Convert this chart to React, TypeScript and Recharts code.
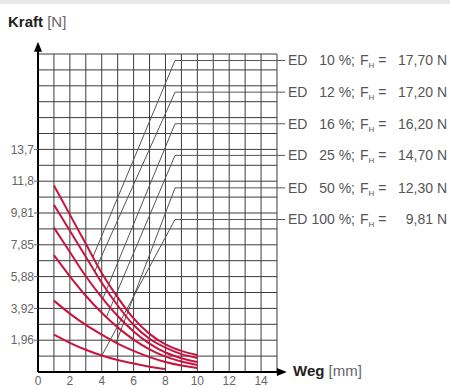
import React from 'react';
import { LineChart, Line, XAxis, YAxis, CartesianGrid, ReferenceLine, ReferenceDot } from 'recharts';

// Weg (mm) where the force curves are sampled
const curveX = [1, 2, 3, 4, 5, 6, 7, 8, 9, 10];
// Kraft (N) per ED curve (top to bottom)
const curveEd10 = [11.5, 9.7, 7.9, 6.1, 4.6, 3.3, 2.35, 1.7, 1.3, 1.05];
const curveEd12 = [10.3, 8.7, 7.1, 5.5, 4.1, 2.9, 2.05, 1.5, 1.1, 0.86];
const curveEd16 = [8.9, 7.4, 5.9, 4.6, 3.45, 2.5, 1.75, 1.2, 0.85, 0.62];
const curveEd25 = [7.2, 5.9, 4.7, 3.65, 2.75, 2.0, 1.4, 0.95, 0.65, 0.43];
const curveEd50 = [4.4, 3.6, 2.9, 2.3, 1.75, 1.3, 0.92, 0.62, 0.4, 0.25];
const curveEd100 = [2.3, 1.8, 1.37, 1.02, 0.74, 0.52, 0.33, 0.18];

// thin guide lines: start on the curve, bend into the holding level
const guideStartX = [3.45, 3.56, 4.06, 4.3, 4.9, 4.0];
const guideStartY = [7.1, 6.2, 4.5, 3.4, 1.8, 1.0];
const guideBendX = 8.6;
const guideLevels = [19.2, 17.25, 15.3, 13.35, 11.35, 9.4];

const edPercent = ['10 %;', '12 %;', '16 %;', '25 %;', '50 %;', '100 %;'];
const edForce = ['17,70 N', '17,20 N', '16,20 N', '14,70 N', '12,30 N', '9,81 N'];

const xTicks = Array.from({ length: 16 }, (_, i) => i);
const xLabels = ['0', '2', '4', '6', '8', '10', '12', '14'];
const yStep = 0.98;
const yTicks = Array.from({ length: 21 }, (_, i) => +(i * yStep).toFixed(2));
const yLabels = ['1,96', '3,92', '5,88', '7,85', '9,81', '11,8', '13,7'];

const FONT = "'Liberation Sans', Arial, Helvetica, sans-serif";
const RED = '#c8143e';

const pts = (xs: number[], ys: number[]) => ys.map((y, i) => ({ x: xs[i], y }));

const curves = [curveEd10, curveEd12, curveEd16, curveEd25, curveEd50, curveEd100];
const guides = guideLevels.map((lvl, i) => [
  { x: guideStartX[i], y: guideStartY[i] },
  { x: guideBendX, y: lvl },
  { x: 15, y: lvl },
]);

const XTick = ({ x, y, payload }: any) => {
  const v = payload.value;
  if (v % 2 !== 0 || v > 14) return null;
  return (
    <text x={x} y={y + 13} textAnchor="middle" fontSize={12} fill="#666" fontFamily={FONT}>
      {xLabels[v / 2]}
    </text>
  );
};

const YTick = ({ x, y, payload }: any) => {
  const k = Math.round(payload.value / yStep);
  if (k % 2 !== 0 || k < 2 || k > 14) return null;
  return (
    <g>
      <line x1={x - 4} x2={x} y1={y} y2={y} stroke="#666" />
      <text x={x - 4} y={y} dy="0.35em" textAnchor="end" fontSize={12} fill="#666" fontFamily={FONT}>
        {yLabels[k / 2 - 1]}
      </text>
    </g>
  );
};

const EdTick = ({ x, y, payload }: any) => {
  const i = guideLevels.indexOf(payload.value);
  if (i < 0) return null;
  return (
    <g fontFamily={FONT} fontSize={14} fill="#555">
      <text x={x} y={y} dy="0.35em">ED</text>
      <text x={x + 67} y={y} dy="0.35em" textAnchor="end">{edPercent[i]}</text>
      <text x={x + 72} y={y} dy="0.35em">
        F<tspan fontSize={8} dy={3}>H</tspan><tspan dy={-3}> =</tspan>
      </text>
      <text x={x + 159} y={y} dy="0.35em" textAnchor="end">{edForce[i]}</text>
    </g>
  );
};

const ArrowUp = ({ cx, cy }: any) => <path d={`M${cx},${cy} l-4,10 l8,0 z`} fill="#000" />;
const ArrowRight = ({ cx, cy }: any) => <path d={`M${cx},${cy} l-10,-4 l0,8 z`} fill="#000" />;

export default function App() {
  return (
    <div style={{ position: 'absolute', left: 0, top: 0, width: 450, height: 388, background: '#fff', fontFamily: FONT }}>
      <div style={{ position: 'absolute', left: 0, top: 0, width: 450, height: 4, background: '#e8e8e8' }} />
      <div style={{ position: 'absolute', left: 8, top: 13, fontSize: 15, lineHeight: '18px', color: '#222' }}>
        <b>Kraft</b> <span style={{ color: '#666' }}>[N]</span>
      </div>
      <div style={{ position: 'absolute', left: 293, top: 362, fontSize: 15, lineHeight: '18px', color: '#222' }}>
        <b>Weg</b> <span style={{ color: '#666' }}>[mm]</span>
      </div>
      <LineChart width={450} height={388} margin={{ top: 54, right: 0, bottom: 0, left: 0 }}>
        <CartesianGrid stroke="#3c3c3c" strokeWidth={1} />
        <XAxis
          dataKey="x"
          type="number"
          domain={[0, 15]}
          ticks={xTicks}
          allowDataOverflow
          height={16}
          axisLine={false}
          tickLine={false}
          tickSize={0}
          tickMargin={0}
          tick={<XTick />}
          interval={0}
        />
        <YAxis
          type="number"
          domain={[0, 19.6]}
          ticks={yTicks}
          allowDataOverflow
          width={38}
          axisLine={false}
          tickLine={false}
          tickSize={0}
          tickMargin={0}
          tick={<YTick />}
          interval={0}
        />
        <YAxis
          yAxisId="right"
          orientation="right"
          type="number"
          domain={[0, 19.6]}
          ticks={guideLevels}
          allowDataOverflow
          width={173}
          axisLine={false}
          tickLine={{ stroke: '#555' }}
          tickSize={8}
          tickMargin={3}
          tick={<EdTick />}
          interval={0}
        />
        {guides.map((g, i) => (
          <Line
            key={'g' + i}
            data={g}
            dataKey="y"
            type="linear"
            stroke="#555"
            strokeWidth={1}
            dot={false}
            activeDot={false}
            isAnimationActive={false}
          />
        ))}
        {curves.map((c, i) => (
          <Line
            key={'c' + i}
            data={pts(curveX, c)}
            dataKey="y"
            type="monotone"
            stroke={RED}
            strokeWidth={2}
            dot={false}
            activeDot={false}
            isAnimationActive={false}
          />
        ))}
        <ReferenceLine segment={[{ x: 0, y: 0 }, { x: 0, y: 20.1 }]} stroke="#000" strokeWidth={2} ifOverflow="visible" />
        <ReferenceLine segment={[{ x: 0, y: 0 }, { x: 15.4, y: 0 }]} stroke="#000" strokeWidth={2} ifOverflow="visible" />
        <ReferenceDot x={0} y={20.35} ifOverflow="visible" shape={<ArrowUp />} />
        <ReferenceDot x={15.62} y={0} ifOverflow="visible" shape={<ArrowRight />} />
      </LineChart>
    </div>
  );
}
